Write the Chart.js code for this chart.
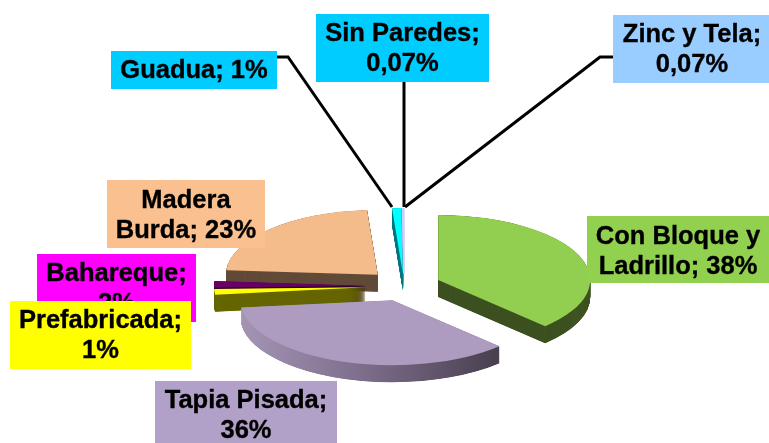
<!DOCTYPE html>
<html><head><meta charset="utf-8">
<style>html,body{margin:0;padding:0;background:#fff}canvas{display:block}</style>
<script src="https://cdn.jsdelivr.net/npm/chart.js@4/dist/chart.umd.js"></script>
</head><body><canvas id="c" width="769" height="443"></canvas>
<script>
const categories = ['Con Bloque y Ladrillo','Tapia Pisada','Prefabricada','Bahareque','Madera Burda','Guadua','Sin Paredes','Zinc y Tela'];
const values = [38,36,1.4,1.6,23,1,0.07,0.07];
const valueLabels = ['38%','36%','1%','2%','23%','1%','0,07%','0,07%'];
const topColors = ['#92CE50','#AD9CBF','#FFFF00','#660066','#F4BB8B','#00FFFF','#CCCCFF','#CCCCFF'];
const sideColors = ['#3E5222',null,'#666600','#330033','#634B39','#007A80','#8A8AA8','#8A8AA8'];
const sliceBorders = [0,0,0,0,0,0,1.5,1.5];

const view = {cx:404, cy:286, squash:0.428, depth:17, radius:152,
  explode:[37,35,38,38,37,30,30,30], order:[4,5,6,7,3,2,1,0]};

const labelBoxes = [
  {x:587,y:216,w:182,h:67,dy:2,fill:'#92D050',lines:['Con Bloque y','Ladrillo; 38%']},
  {x:155,y:381,w:182,h:68,dy:1,fill:'#B1A0C7',lines:['Tapia Pisada;','36%']},
  {x:107,y:180,w:158,h:68,dy:2,fill:'#FAC090',lines:['Madera','Burda; 23%']},
  {x:37, y:254,w:159,h:68,dy:1,fill:'#FF00FF',lines:['Bahareque;','2%']},
  {x:10, y:301,w:181,h:68,dy:1,fill:'#FFFF00',lines:['Prefabricada;','1%']},
  {x:111,y:51, w:166,h:38,dy:1,fill:'#00CCFF',lines:['Guadua; 1%']},
  {x:316,y:14, w:173,h:68,dy:1,fill:'#00CCFF',lines:['Sin Paredes;','0,07%']},
  {x:613,y:15, w:158,h:68,dy:1,fill:'#99CCFF',lines:['Zinc y Tela;','0,07%']}
];
const leaders = [
  [[277,57],[288,57],[392,207]],
  [[404,82],[404,207]],
  [[613,57],[600,57],[405,207]]
];

function place(ctx, arc, idx, lift){
  const mid=(arc.startAngle+arc.endAngle)/2, o=view.explode[idx];
  ctx.translate(view.cx+Math.cos(mid)*o, view.cy+Math.sin(mid)*o*view.squash+lift);
  ctx.scale(1,view.squash);
  ctx.translate(-arc.x,-arc.y);
}
const pie3d = {
  id:'pie3d',
  beforeDatasetDraw(chart,args){
    const ctx=chart.ctx, arcs=args.meta.data;
    for(const idx of view.order){
      const a=arcs[idx];
      for(let d=view.depth;d>=0.25;d-=0.25){
        ctx.save(); place(ctx,a,idx,d);
        if(sideColors[idx]) ctx.fillStyle=sideColors[idx];
        else{
          const g=ctx.createLinearGradient(a.x-a.outerRadius,0,a.x+a.outerRadius*0.68,0);
          g.addColorStop(0,'#A495B5'); g.addColorStop(0.45,'#80708F'); g.addColorStop(1,'#494050');
          ctx.fillStyle=g;
        }
        ctx.beginPath(); ctx.moveTo(a.x,a.y);
        ctx.arc(a.x,a.y,a.outerRadius,a.startAngle,a.endAngle); ctx.closePath(); ctx.fill();
        ctx.restore();
      }
    }
    for(const idx of view.order){
      ctx.save(); place(ctx,arcs[idx],idx,0); arcs[idx].draw(ctx); ctx.restore();
    }
    return false;
  },
  afterDraw(chart){
    const ctx=chart.ctx;
    ctx.save();
    ctx.strokeStyle='#000'; ctx.lineWidth=3; ctx.lineJoin='miter';
    for(const l of leaders){
      ctx.beginPath(); l.forEach((p,k)=>k?ctx.lineTo(p[0],p[1]):ctx.moveTo(p[0],p[1])); ctx.stroke();
    }
    ctx.font='bold 25.5px "Liberation Sans", Arial, sans-serif';
    ctx.textAlign='center'; ctx.textBaseline='middle';
    ctx.lineWidth=0.35;
    for(const b of labelBoxes){
      ctx.fillStyle=b.fill; ctx.fillRect(b.x,b.y,b.w,b.h);
      ctx.fillStyle='#000';
      const mid=b.y+b.h/2, lh=30, n=b.lines.length;
      b.lines.forEach((t,k)=>{
        const y=mid+(k-(n-1)/2)*lh+b.dy;
        ctx.fillText(t,b.x+b.w/2,y); ctx.strokeText(t,b.x+b.w/2,y);
      });
    }
    ctx.restore();
  }
};
new Chart(document.getElementById('c'),{
  type:'pie',
  data:{labels:categories,datasets:[{data:values,backgroundColor:topColors,borderColor:topColors,borderWidth:sliceBorders,offset:0}]},
  options:{responsive:false,animation:false,radius:view.radius,
    layout:{padding:0},
    plugins:{legend:{display:false},tooltip:{enabled:false},title:{display:false}}},
  plugins:[pie3d]
});
</script></body></html>
